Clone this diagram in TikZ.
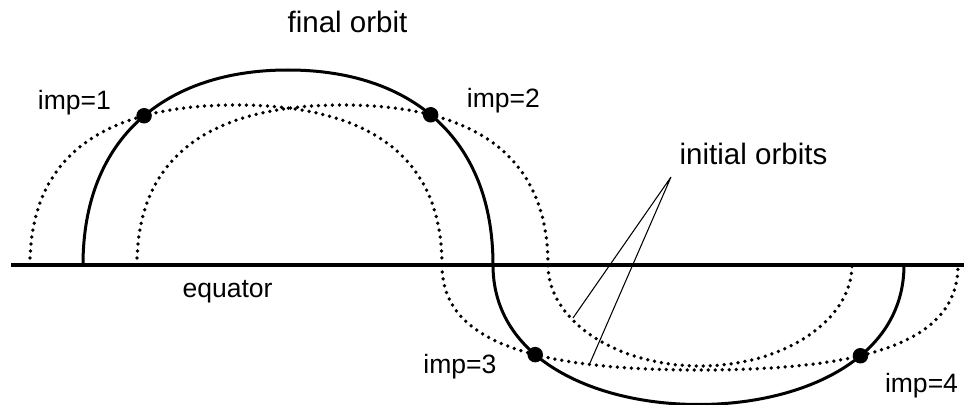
\documentclass[tikz,border=0pt]{standalone}
\usepackage{fontspec}
\setmainfont{Liberation Sans}
\usetikzlibrary{intersections}

\begin{document}
\begin{tikzpicture}[
 every node/.style={inner sep=0pt,anchor=base},
 orbitlbl/.style={font=\fontsize{16.8}{20}\selectfont},
 implbl/.style={font=\fontsize{15.1}{18}\selectfont},
 equatorline/.style={line width=0.07cm},
 final/.style={line width=0.06cm},
 initial/.style={line width=0.075cm,line cap=round,dash pattern=on 0pt off 0.14cm},
 pointer/.style={line width=0.6pt},
 impdot/.style={circle,fill=black,minimum size=0.31cm,anchor=center}]
\useasboundingbox (0,-2.78) rectangle (19.28,5.3);
% equator
\coordinate (eqW) at (0.22,0);
\coordinate (eqE) at (19.28,0);
\draw[equatorline] (eqW) -- (eqE);
\node[implbl] (eqlbl) at (4.55,-0.64) {equator};
% the two initial orbits
\draw[initial,name path=iniA] (0.6,0) .. controls (0.6,2.304) and (2.248,3.2) .. (4.72,3.2)
 .. controls (7.192,3.2) and (8.84,2.304) .. (8.84,0)
 .. controls (8.84,-1.428) and (10.388,-2.1) .. (14,-2.1)
 .. controls (17.612,-2.1) and (19.16,-1.428) .. (19.16,0);
\draw[initial,name path=iniB] (2.74,0) .. controls (2.74,2.304) and (4.384,3.2) .. (6.85,3.2)
 .. controls (9.316,3.2) and (10.96,2.304) .. (10.96,0)
 .. controls (10.96,-1.111) and (12.328,-2.02) .. (14,-2.02)
 .. controls (15.672,-2.02) and (17.04,-1.111) .. (17.04,0);
% final orbit
\draw[final,name path=finorb] (1.66,0) .. controls (1.66,2.535) and (3.3,3.9) .. (5.76,3.9)
 .. controls (8.22,3.9) and (9.86,2.535) .. (9.86,0)
 .. controls (9.86,-1.897) and (11.915,-2.79) .. (13.97,-2.79)
 .. controls (16.025,-2.79) and (18.08,-1.897) .. (18.08,0);
% impulses
\path[name intersections={of=finorb and iniA,sort by=finorb,by={x1,x3,x4}}];
\path[name intersections={of=finorb and iniB,by=x2}];
\node[impdot] (dot1) at (x1) {};
\node[impdot] (dot2) at (x2) {};
\node[impdot] (dot3) at (x3) {};
\node[impdot] (dot4) at (x4) {};
\node[implbl] (imp1) at (1.49,3.1) {imp=1};
\node[implbl] (imp2) at (10.07,3.14) {imp=2};
\node[implbl] (imp3) at (9.2,-2.16) {imp=3};
\node[implbl] (imp4) at (18.43,-2.54) {imp=4};
% labels
\node[orbitlbl] (finallbl) at (6.95,4.64) {final orbit};
\node[orbitlbl] (initlbl) at (15.07,2.0) {initial orbits};
\coordinate (tip) at (13.42,1.76);
\coordinate (toB) at (11.46,-1.06);
\coordinate (toA) at (11.8,-1.96);
\draw[pointer] (tip) -- (toB) (tip) -- (toA);
\end{tikzpicture}
\end{document}
